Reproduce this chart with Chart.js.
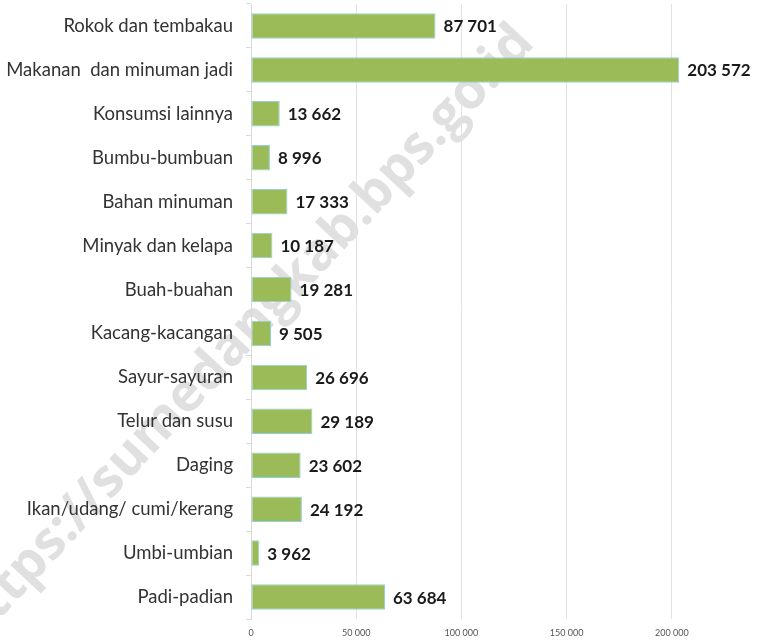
<!DOCTYPE html>
<html>
<head>
<meta charset="utf-8">
<script src="https://cdn.jsdelivr.net/npm/chart.js@4"></script>
<style>
    body { margin: 0; overflow: hidden; background: #fff; }
    #wrap { position: relative; width: 759px; height: 642px; overflow: hidden; }
    canvas { display: block; position: relative; z-index: 1; }
    #watermark {
        position: absolute; left: -68px; top: 608px; z-index: 0;
        font-family: 'Open Sans', sans-serif; font-weight: bold; font-size: 53px;
        color: #e0e0e0; white-space: nowrap;
        transform: rotate(-47deg); transform-origin: left top;
        pointer-events: none;
    }
</style>
</head>
<body>
<div id="wrap">
    <div id="watermark">https://sumedangkab.bps.go.id</div>
    <canvas id="expenseChart" width="800" height="642"></canvas>
</div>
<script>
const categories = [
    'Rokok dan tembakau', 'Makanan  dan minuman jadi', 'Konsumsi lainnya', 'Bumbu-bumbuan',
    'Bahan minuman', 'Minyak dan kelapa', 'Buah-buahan', 'Kacang-kacangan',
    'Sayur-sayuran', 'Telur dan susu', 'Daging', 'Ikan/udang/ cumi/kerang',
    'Umbi-umbian', 'Padi-padian'
];
const values = [87701, 203572, 13662, 8996, 17333, 10187, 19281, 9505, 26696, 29189, 23602, 24192, 3962, 63684];
const xTicks = [0, 50000, 100000, 150000, 200000, 250000];

function fmt(n) {
    return String(n).replace(/\B(?=(\d{3})+(?!\d))/g, ' ');
}

// value labels to the right of each bar
const valueLabels = {
    id: 'valueLabels',
    afterDatasetsDraw(chart) {
        const ctx = chart.ctx;
        const meta = chart.getDatasetMeta(0);
        ctx.save();
        ctx.font = 'bold 17px Lato';
        ctx.fillStyle = '#1a1a1a';
        ctx.textBaseline = 'middle';
        meta.data.forEach((bar, i) => {
            ctx.fillText(fmt(values[i]), bar.x + 8, bar.y + 1);
        });
        ctx.restore();
    }
};

const ctx = document.getElementById('expenseChart').getContext('2d');
new Chart(ctx, {
    type: 'bar',
    data: {
        labels: categories,
        datasets: [{
            data: values,
            backgroundColor: '#9bbb59',
            borderColor: '#8fd0e2',
            borderWidth: 1,
            borderSkipped: false,
            barPercentage: 0.58,
            categoryPercentage: 1
        }]
    },
    options: {
        indexAxis: 'y',
        responsive: false,
        animation: false,
        layout: { padding: { top: 4, right: 23, left: 0, bottom: 0 } },
        plugins: {
            legend: { display: false },
            tooltip: { enabled: false }
        },
        scales: {
            x: {
                min: 0,
                max: 250000,
                afterBuildTicks: axis => { axis.ticks = xTicks.map(v => ({ value: v })); },
                afterFit: axis => { axis.height = 23; axis.paddingLeft = 0; axis.paddingRight = 0; },
                grid: { color: '#e2e2e2', drawTicks: false },
                border: { display: false },
                ticks: {
                    padding: 9,
                    color: '#555',
                    font: { family: 'Lato', size: 9 },
                    callback: v => fmt(v)
                }
            },
            y: {
                afterFit: axis => { axis.width = 251; axis.paddingTop = 0; axis.paddingBottom = 0; },
                grid: { drawOnChartArea: false, color: '#d9d9d9', tickLength: 5, offset: true },
                border: { color: '#d9d9d9' },
                ticks: {
                    padding: 13,
                    color: '#333',
                    font: { family: 'Lato', size: 18.5 }
                }
            }
        }
    },
    plugins: [valueLabels]
});
</script>
</body>
</html>
